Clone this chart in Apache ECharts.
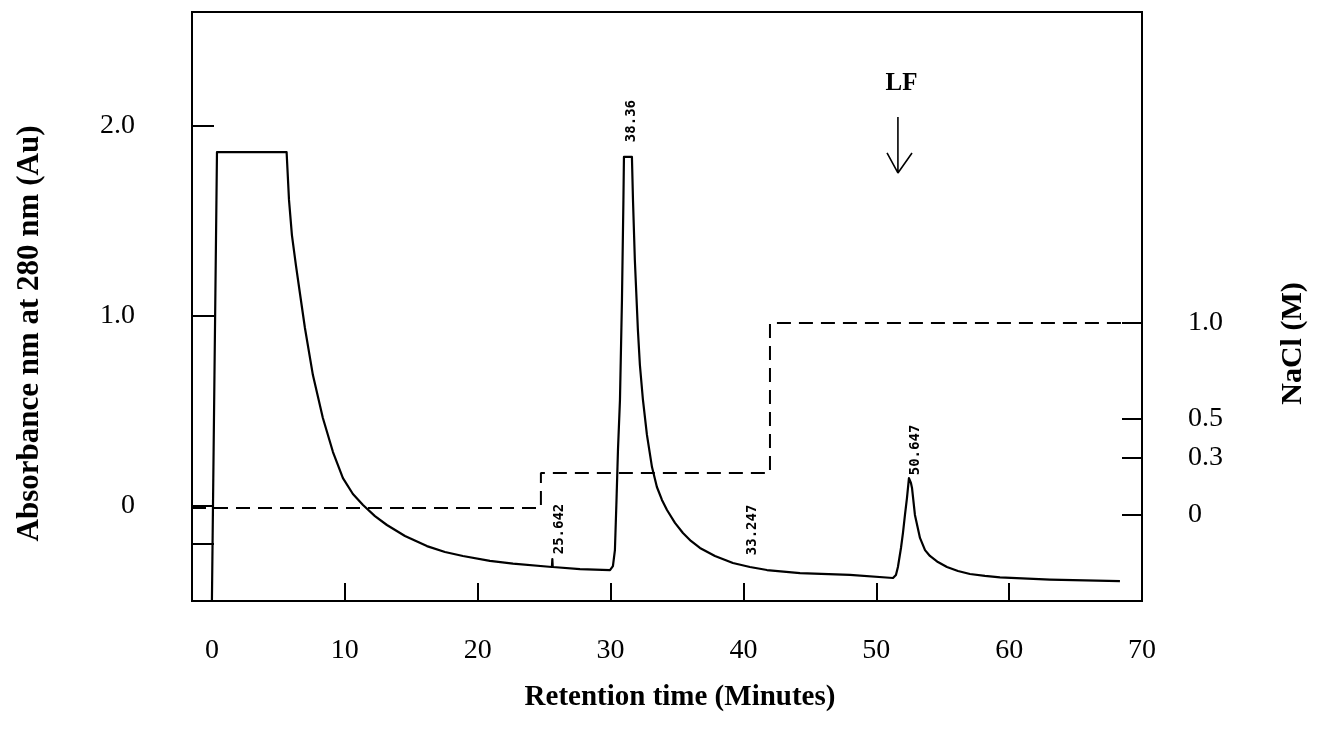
<!DOCTYPE html>
<html>
<head>
<meta charset="utf-8">
<script src="https://cdn.jsdelivr.net/npm/echarts@6/dist/echarts.min.js"></script>
<style>
html,body{margin:0;padding:0;background:#fff;}
#chart{width:1322px;height:733px;}
</style>
</head>
<body>
<div id="chart"></div>
<script>
// ---- Data ----
// Absorbance at 280 nm trace (time in minutes, absorbance in Au)
const absTime  = [0, 0.38, 5.62, 5.80, 6.02, 6.32, 6.62, 7.00, 7.60, 8.35, 9.11, 9.86, 10.61, 11.37, 12.27, 13.17, 14.53, 16.18, 17.54, 18.89,
                  20.92, 22.66, 25.59, 25.62, 25.65, 27.70, 29.96,
                  30.18, 30.33, 30.45, 30.56, 30.71, 30.86, 30.97, 31.01, 31.61, 31.69, 31.83, 32.06, 32.21, 32.44, 32.74, 33.12, 33.49, 33.87,
                  34.25, 34.85, 35.45, 36.05, 36.73, 37.86, 39.21, 40.49, 41.77, 44.26, 48.02, 51.26,
                  51.48, 51.63, 51.86, 52.01, 52.16, 52.31, 52.46, 52.61, 52.69, 52.91, 53.29, 53.67, 54.04, 54.64, 55.32, 56.15, 57.05, 58.18,
                  59.31, 63.07, 68.34];
const absValue = [-0.495, 1.863, 1.863, 1.611, 1.426, 1.268, 1.121, 0.937, 0.689, 0.463, 0.284, 0.147, 0.063, 0.005, -0.053, -0.100, -0.158, -0.211, -0.242, -0.263,
                  -0.289, -0.303, -0.321, -0.279, -0.321, -0.332, -0.337,
                  -0.316, -0.232, 0.032, 0.295, 0.558, 1.084, 1.611, 1.837, 1.837, 1.611, 1.295, 0.926, 0.742, 0.558, 0.374, 0.205, 0.100, 0.032,
                  -0.021, -0.089, -0.142, -0.184, -0.221, -0.263, -0.300, -0.321, -0.337, -0.353, -0.363, -0.379,
                  -0.363, -0.321, -0.221, -0.142, -0.047, 0.042, 0.147, 0.121, 0.095, -0.047, -0.168, -0.232, -0.263, -0.295, -0.321, -0.342, -0.358, -0.368,
                  -0.376, -0.387, -0.395];
// NaCl step gradient (time in minutes, concentration in M)
const naclTime  = [-1.5, 24.76, 24.76, 42.0, 42.0, 70];
const naclValue = [0.036, 0.036, 0.219, 0.219, 1.0, 1.0];
// Tick values / labels
const timeTicks = [0, 10, 20, 30, 40, 50, 60, 70];
const absTickMarks = [-0.2, 0, 1, 2];
const absTickLabels = [0, 1, 2];
const naclTicks = [0, 0.3, 0.5, 1.0];
// Integrator peak annotations (text, anchor time, anchor absorbance)
const peakText  = ['25.642', '38.36', '33.247', '50.647'];
const peakTime  = [26.16, 31.54, 40.68, 52.91];
const peakLevel = [-0.121, 2.026, -0.126, 0.295];
// LF marker (arrow) anchor
const lfTime = 51.63;
const lfArrowTop = 2.047, lfArrowTip = 1.753, lfArmLevel = 1.858, lfArmLeft = 50.81, lfArmRight = 52.69;
const lfTextLevel = 2.226, lfTextTime = 51.9;

const zip = (a, b) => a.map((v, i) => [v, b[i]]);

const serif = 'Liberation Serif, Times New Roman, serif';
const chart = echarts.init(document.getElementById('chart'), null, {renderer: 'canvas'});

const option = {
  backgroundColor: '#fff',
  animation: false,
  grid: {left: 192, right: 180, top: 12, bottom: 132, show: true, borderColor: '#000', borderWidth: 2, backgroundColor: 'transparent'},
  xAxis: {
    type: 'value', min: -1.5, max: 70,
    name: 'Retention time (Minutes)', nameLocation: 'middle', nameGap: 82,
    nameTextStyle: {fontFamily: serif, fontWeight: 'bold', fontSize: 29, color: '#000', padding: [0, 0, 0, 26]},
    axisLine: {show: true, onZero: false, lineStyle: {color: '#000', width: 2}},
    axisTick: {show: true, inside: true, length: 18, customValues: timeTicks, lineStyle: {color: '#000', width: 2}},
    axisLabel: {customValues: timeTicks, margin: 36, fontFamily: serif, fontSize: 28, color: '#000'},
    splitLine: {show: false}
  },
  yAxis: [{
    type: 'value', min: -0.5, max: 2.6, position: 'left',
    name: 'Absorbance nm at 280 nm (Au)', nameLocation: 'middle', nameRotate: 90, nameGap: 147,
    nameTextStyle: {fontFamily: serif, fontWeight: 'bold', fontSize: 31, color: '#000', padding: [0, 54, 0, 0]},
    axisLine: {show: true, onZero: false, lineStyle: {color: '#000', width: 2}},
    axisTick: {show: true, inside: true, length: 22, customValues: absTickMarks, lineStyle: {color: '#000', width: 2}},
    axisLabel: {customValues: absTickLabels, margin: 57, fontFamily: serif, fontSize: 28, color: '#000',
      formatter: v => v === 0 ? '0' : v.toFixed(1)},
    splitLine: {show: false}
  }, {
    type: 'value', min: -0.448, max: 2.62, position: 'right',
    name: 'NaCl (M)', nameLocation: 'middle', nameRotate: 90, nameGap: 136,
    nameTextStyle: {fontFamily: serif, fontWeight: 'bold', fontSize: 30, color: '#000', padding: [0, 74, 0, 0]},
    axisLine: {show: true, onZero: false, lineStyle: {color: '#000', width: 2}},
    axisTick: {show: true, inside: true, length: 20, customValues: naclTicks, lineStyle: {color: '#000', width: 2}},
    axisLabel: {customValues: naclTicks, margin: 46, fontFamily: serif, fontSize: 28, color: '#000',
      formatter: v => v === 0 ? '0' : v.toFixed(1)},
    splitLine: {show: false}
  }],
  series: [{
    name: 'Absorbance 280 nm', type: 'line', yAxisIndex: 0, data: zip(absTime, absValue),
    showSymbol: false, symbol: 'none', smooth: false, silent: true,
    lineStyle: {color: '#000', width: 2.2, join: 'round'}
  }, {
    name: 'NaCl', type: 'line', yAxisIndex: 1, data: zip(naclTime, naclValue),
    showSymbol: false, symbol: 'none', silent: true,
    lineStyle: {color: '#000', width: 2, type: [14, 8]}
  }, {
    name: 'Peak labels', type: 'scatter', yAxisIndex: 0, symbolSize: 0, silent: true,
    itemStyle: {color: '#000', opacity: 1},
    data: peakText.map((t, i) => ({value: [peakTime[i], peakLevel[i]], name: t})),
    label: {show: true, position: 'inside', rotate: 90, formatter: p => p.name,
      fontFamily: 'DejaVu Sans Mono, monospace', fontWeight: 'bold', fontSize: 14, color: '#000',
      textBorderWidth: 0, opacity: 1}
  }, {
    name: 'LF arrow', type: 'line', yAxisIndex: 0, symbol: 'none', silent: true,
    data: [[lfTime, lfArrowTop], [lfTime, lfArrowTip], [lfArmLeft, lfArmLevel], [lfTime, lfArrowTip], [lfArmRight, lfArmLevel]],
    lineStyle: {color: '#000', width: 1.6}
  }, {
    name: 'LF', type: 'scatter', yAxisIndex: 0, symbolSize: 0, silent: true,
    itemStyle: {color: '#000', opacity: 1},
    data: [{value: [lfTextTime, lfTextLevel], name: 'LF'}],
    label: {show: true, position: 'inside', formatter: p => p.name,
      fontFamily: serif, fontWeight: 'bold', fontSize: 25, color: '#000', textBorderWidth: 0, opacity: 1}
  }]
};
chart.setOption(option);
</script>
</body>
</html>
